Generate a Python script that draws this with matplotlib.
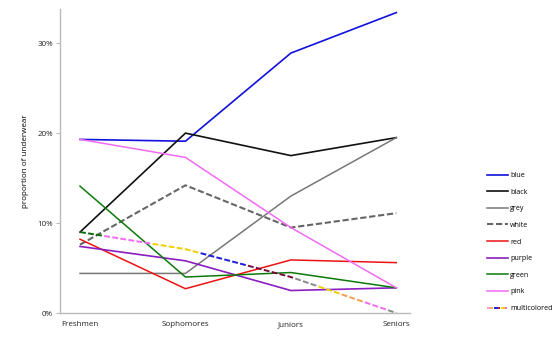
import matplotlib
matplotlib.use('Agg')
import matplotlib.pyplot as plt
from matplotlib.lines import Line2D
from matplotlib.legend_handler import HandlerBase
from matplotlib.ticker import FuncFormatter

plt.rcParams['font.family'] = ['Open Sans', 'DejaVu Sans']

years = ['Freshmen', 'Sophomores', 'Juniors', 'Seniors']

blue = [19.3, 19.1, 28.9, 33.4]
black = [9.0, 20.0, 17.5, 19.5]
grey = [4.4, 4.4, 13.0, 19.5]
white = [7.6, 14.2, 9.5, 11.1]
red = [8.2, 2.7, 5.9, 5.6]
purple = [7.4, 5.8, 2.5, 2.8]
green = [14.1, 4.0, 4.5, 2.8]
pink = [19.3, 17.3, 9.5, 2.8]
multicolored = [9.0, 7.1, 4.0, 0.0]

# plain series: (label, values, colour, linestyle, width)
series = [
    ('blue', blue, '#1111dd', '-', 1.2),
    ('black', black, '#111111', '-', 1.2),
    ('grey', grey, '#777777', '-', 1.1),
    ('white', white, '#666666', (0, (3, 1.3)), 1.5),
    ('red', red, '#ee1111', '-', 1.1),
    ('purple', purple, '#8a1ec0', '-', 1.2),
    ('green', green, '#0b7a0b', '-', 1.1),
    ('pink', pink, '#f36af3', '-', 1.1),
]

# colour run along the multicolored dashed line
mc_colors = ['#0b6a0b', '#f36af3', '#f36af3', '#f0d000', '#f0d000', '#1a1add',
             '#1a1add', '#7a0a3a', '#7a0a3a', '#888888', '#f0d000', '#f5a050',
             '#f36af3', '#888888', '#0b6a0b']
legend_mc = ['#f59ad0', '#f0c000', '#1a1add', '#c01040', '#f0d000', '#f36af3']


class MultiDashHandler(HandlerBase):
    def create_artists(self, legend, orig_handle, xdescent, ydescent,
                       width, height, fontsize, trans):
        arts = []
        k = len(legend_mc)
        step = width / k
        y = height / 2 - ydescent
        for i, c in enumerate(legend_mc):
            x0 = -xdescent + i * step
            # pairs of colours make one dash
            if i % 2 == 0:
                gap = 0
            else:
                gap = step * 0.35
            arts.append(Line2D([x0, x0 + step - gap], [y, y], color=c, lw=1.4,
                               transform=trans, solid_capstyle='butt'))
        return arts


fig = plt.figure(figsize=(5.6, 3.37), dpi=100)
ax = fig.add_axes([60 / 560, 1 - 313 / 337, 350 / 560, 304 / 337])

x = list(range(len(years)))
handles = []
for label, vals, col, ls, w in series:
    h, = ax.plot(x, vals, color=col, lw=w, ls=ls)
    handles.append(h)

# multicolored: same line drawn once per colour, each with its own dash window
lw = 1.4
seg = (3, 1.2, 3, 1.2, 3, 1.2)  # one colour chunk, in linewidth units
L = sum(seg)
n = len(mc_colors)
total = L * n
for i, col in enumerate(mc_colors):
    dashes = seg[:-1] + (seg[-1] + L * (n - 1),)
    off = (total - i * L) % total
    ax.plot(x, multicolored, color=col, lw=lw, ls=(off, dashes), solid_capstyle='butt')
mc_handle = Line2D([], [])
handles.append(mc_handle)
labels = [s[0] for s in series] + ['multicolored']

ax.set_xlim(-0.19, 3.13)
ax.set_ylim(0, 33.8)
ax.set_yticks([0, 10, 20, 30])
ax.yaxis.set_major_formatter(FuncFormatter(lambda v, p: f'{v:.0f}%'))
ax.set_xticks(x)
ax.set_xticklabels(years)
ax.tick_params(axis='x', length=0, labelsize=5.8, pad=6, labelcolor='#222222')
ax.tick_params(axis='y', length=3, width=0.8, color='#bbbbbb', labelsize=5.8, pad=2,
               labelcolor='#222222')
for s in ['top', 'right']:
    ax.spines[s].set_visible(False)
for s in ['left', 'bottom']:
    ax.spines[s].set_color('#bbbbbb')
    ax.spines[s].set_linewidth(1.0)
ax.set_ylabel('proportion of underwear', fontsize=5.8, labelpad=6)

fig.legend(handles, labels, loc='upper left', bbox_to_anchor=(487 / 560, 1 - 172 / 337),
           frameon=False, fontsize=5.1, handlelength=3.0, handletextpad=0.25,
           labelspacing=1.36, borderaxespad=0, borderpad=0,
           handler_map={mc_handle: MultiDashHandler()})

fig.savefig('out.png', dpi=100)
